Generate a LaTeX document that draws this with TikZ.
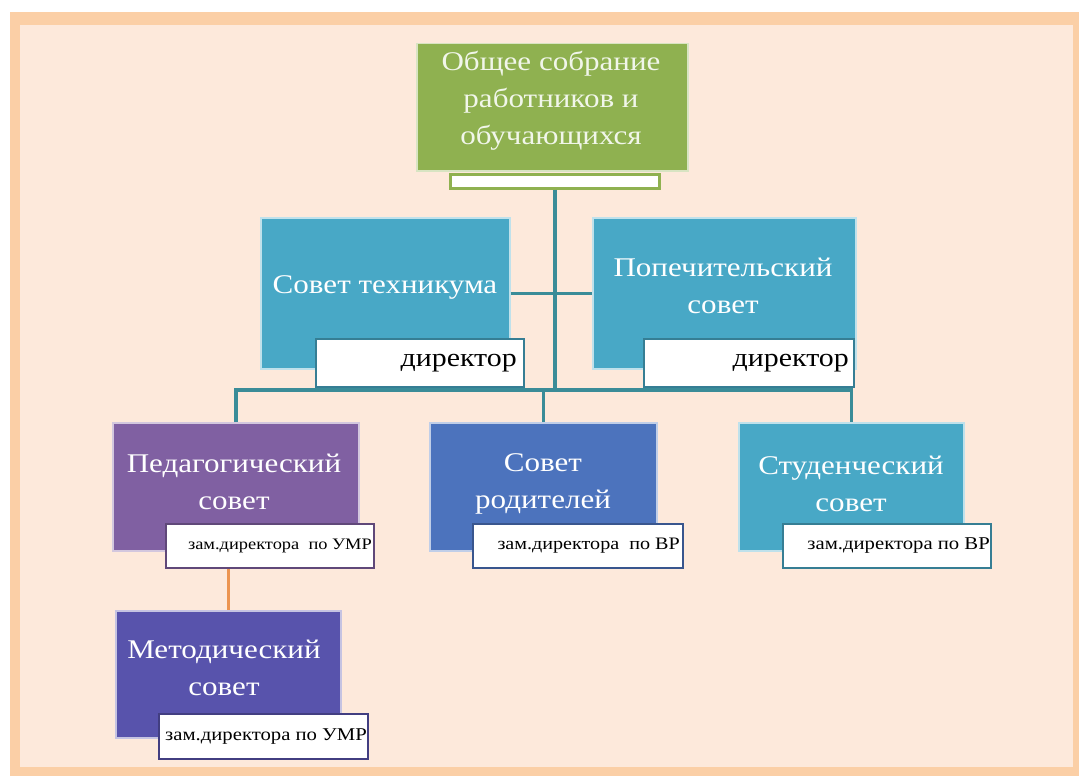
\documentclass[tikz,border=0pt]{standalone}
\usepackage{fontspec}
\setmainfont[FakeStretch=1.15]{Liberation Serif}
\definecolor{frameor}{RGB}{251,207,166}
\definecolor{framein}{RGB}{253,233,219}
\definecolor{cgreen}{RGB}{143,177,80}
\definecolor{cteal}{RGB}{72,168,198}
\definecolor{cpurple}{RGB}{128,96,162}
\definecolor{cblue}{RGB}{76,115,189}
\definecolor{cindigo}{RGB}{88,83,172}
\definecolor{connc}{RGB}{58,140,152}
\definecolor{orconn}{RGB}{236,148,80}
\tikzset{
  box/.style={fill=#1, draw=#1!35!white, line width=1.5pt, anchor=north west, inner sep=0pt},
  lab/.style={fill=white, draw=#1!75!black, line width=2pt, anchor=north west, inner sep=0pt},
  boxtext/.style={text=white, align=center, inner sep=0pt, font=\fontsize{27}{37}\selectfont},
  bigtext/.style={text=black, anchor=east, inner sep=0pt, font=\fontsize{26}{28}\selectfont},
  smalltext/.style={text=black, anchor=east, inner sep=0pt, font=\fontsize{18}{20}\selectfont},
  conn/.style={draw=connc, line width=3.5pt},
  oconn/.style={draw=orconn, line width=3pt}
}
\begin{document}
\begin{tikzpicture}[x=1pt,y=-1pt]
\useasboundingbox (0,0) rectangle (1079,776);
% frame
\fill[white] (0,0) rectangle (1079,776);
\fill[frameor] (10,12) rectangle (1079,776);
\fill[framein] (20,25) rectangle (1073,767);

% boxes
\node[box=cgreen, minimum width=271, minimum height=127] (top) at (416,43) {};
\node[fill=white, draw=cgreen, line width=2.5pt, anchor=north west, inner sep=0pt, minimum width=209, minimum height=14] (topbar) at (449,173) {};

\node[box=cteal, minimum width=249, minimum height=151] (sov) at (260,217) {};
\node[box=cteal, minimum width=263, minimum height=151] (pop) at (592,217) {};
\node[box=cpurple, minimum width=246, minimum height=128] (ped) at (112,422) {};
\node[box=cblue, minimum width=227, minimum height=128] (rod) at (429,422) {};
\node[box=cteal, minimum width=225, minimum height=128] (stud) at (738,422) {};
\node[box=cindigo, minimum width=225, minimum height=127] (met) at (115,610) {};

% connectors
\coordinate (bus) at (553,390);
\draw[conn] (topbar.south) -- (topbar.south |- bus);
\draw[conn] (ped.north) |- (bus) -| (stud.north);
\draw[conn] (rod.north) -- (rod.north |- bus);
\draw[conn] (sov.east) -- (pop.west);

% labels
\node[lab=cteal, minimum width=208, minimum height=48] (sovlab) at (315,338) {};
\node[lab=cteal, minimum width=210, minimum height=48] (poplab) at (643,338) {};
\node[lab=cpurple, minimum width=208, minimum height=44] (pedlab) at (165,523) {};
\node[lab=cblue, minimum width=210, minimum height=44] (rodlab) at (472,523) {};
\node[lab=cteal, minimum width=208, minimum height=44] (studlab) at (782,523) {};
\node[lab=cindigo, minimum width=209, minimum height=45] (metlab) at (158,713) {};

\draw[oconn] (met.north) -- (met.north |- pedlab.south);

% texts
\node[boxtext, text=white!88!cgreen] (topt) at (551,101) {Общее собрание\\работников и\\обучающихся};
\node[boxtext] (sovt) at (385,287) {Совет техникума};
\node[boxtext] (popt) at (723,286) {Попечительский\\совет};
\node[boxtext] (pedt) at (234,482) {Педагогический\\совет};
\node[boxtext] (rodt) at (543,484) {Совет\\родителей};
\node[boxtext] (studt) at (851,484) {Студенческий\\совет};
\node[boxtext] (mett) at (224,668) {Методический\\совет};

\node[bigtext] (sovlt) at ([xshift=-8]sovlab.east) {директор};
\node[bigtext] (poplt) at ([xshift=-6]poplab.east) {директор};
\node[smalltext, font=\fontsize{16}{18}\selectfont] (pedlt) at ([xshift=-3]pedlab.east) {зам.директора~~по УМР};
\node[smalltext, font=\fontsize{17.5}{20}\selectfont] (rodlt) at ([xshift=-4]rodlab.east) {зам.директора~~по ВР};
\node[smalltext] (studlt) at ([xshift=-2]studlab.east) {зам.директора по ВР};
\node[smalltext] (metlt) at ([xshift=-2]metlab.east) {зам.директора по УМР};
\end{tikzpicture}
\end{document}
